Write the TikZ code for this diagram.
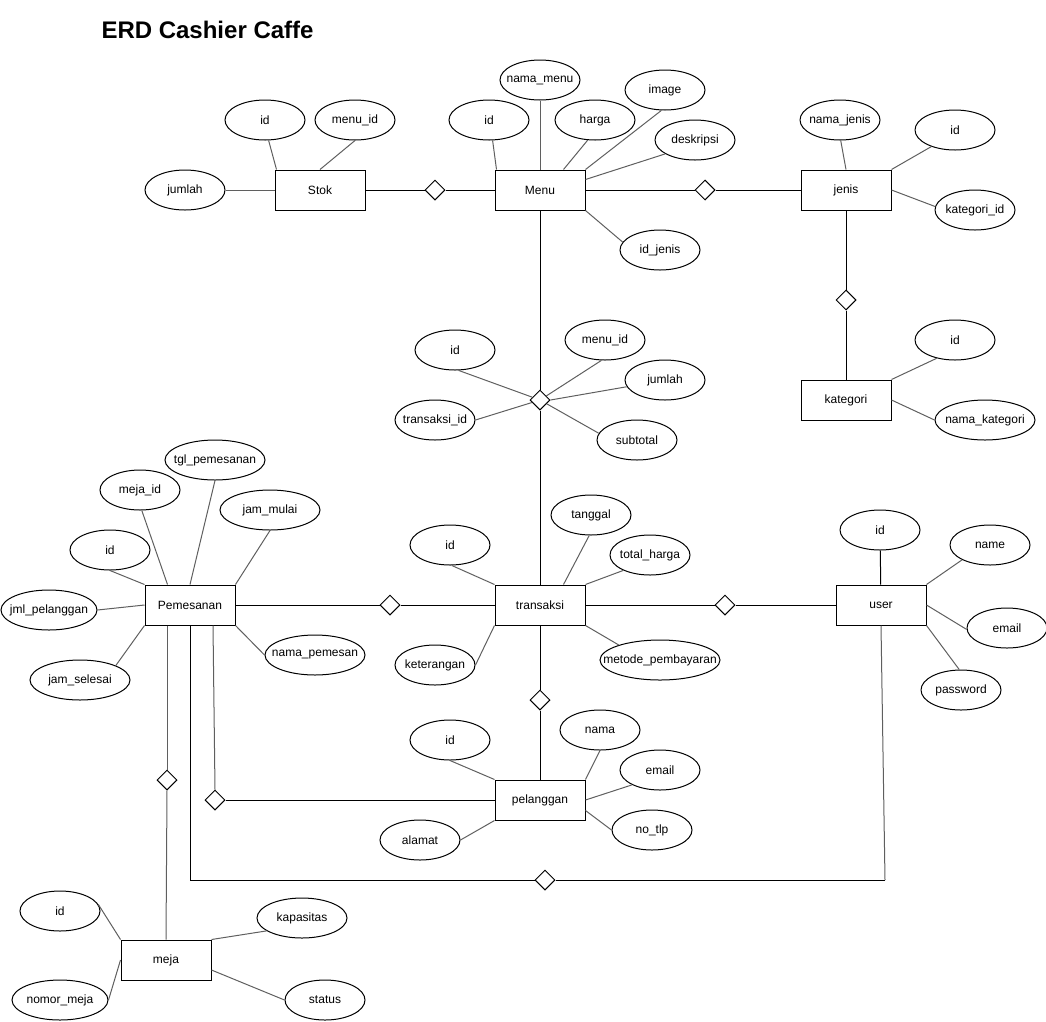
\documentclass[tikz,border=0pt]{standalone}
\usepackage{fontspec}
\setmainfont{Liberation Sans}
\usetikzlibrary{shapes.geometric}
\definecolor{linkgray}{RGB}{95,95,95}

\begin{document}
\begin{tikzpicture}[x=1pt, y=-1pt, line width=1pt,
    font=\fontsize{12}{14}\selectfont,
    entity/.style={draw, minimum width=90pt, minimum height=40pt, inner sep=0pt},
    attr/.style={draw, ellipse, minimum width=80pt, minimum height=40pt, inner xsep=-15pt, inner ysep=0pt},
    rel/.style={draw, diamond, minimum width=20pt, minimum height=20pt, inner sep=0pt, fill=white},
    link/.style={draw=linkgray}]
            \useasboundingbox (0,0) rectangle (1046,1021);

            % Title
            \node[anchor=west, inner sep=0pt, font=\fontsize{24}{28}\selectfont\bfseries] (judul) at (101,30) {ERD Cashier Caffe};

            % Entities
            \node[entity] (stok) at (320,190) {Stok};
            \node[entity] (menu) at (540,190) {Menu};
            \node[entity] (jenis) at (846,190) {jenis};
            \node[entity] (kategori) at (846,400) {kategori};
            \node[entity] (pemesanan) at (190,605) {Pemesanan};
            \node[entity] (transaksi) at (540,605) {transaksi};
            \node[entity] (user) at (881,605) {user};
            \node[entity] (pelanggan) at (540,800) {pelanggan};
            \node[entity] (meja) at (166,960) {meja};

            % Relations
            \node[rel] (stokmenu) at (435,190) {};
            \node[rel] (menujenis) at (705,190) {};
            \node[rel] (jeniskat) at (846,300) {};
            \node[rel] (detail) at (540,400) {};
            \node[rel] (pemtrans) at (390,605) {};
            \node[rel] (transuser) at (725,605) {};
            \node[rel] (transpel) at (540,700) {};
            \node[rel] (pemmeja) at (167,780) {};
            \node[rel] (pempel) at (215,800) {};
            \node[rel] (pemuser) at (545,880) {};
            \coordinate (userturn) at (885,880);

            \draw (stok) -- (stokmenu) -- (menu);
            \draw (menu) -- (menujenis) -- (jenis);
            \draw (jenis) -- (jeniskat) -- (kategori);
            \draw (menu) -- (detail) -- (transaksi);
            \draw (pemesanan) -- (pemtrans) -- (transaksi);
            \draw (transaksi) -- (transuser) -- (user);
            \draw (transaksi) -- (transpel) -- (pelanggan);
            \draw[link] ([xshift=-23pt]pemesanan.south) -- (pemmeja.north);
            \draw[link] (pemmeja.south) -- (meja.north);
            \draw[link] ([xshift=23pt]pemesanan.south) -- (pempel.north);
            \draw (pempel) -- (pelanggan);
            \draw (pemesanan.south) |- (pemuser.west);
            \draw (pemuser.east) -- (userturn);
            \draw[link] (userturn) -- (user.south);

            % Stok attributes
            \node[attr] (stokid) at (265,120) {id};
            \node[attr] (stokmenuid) at (355,120) {menu\_id};
            \node[attr] (stokjumlah) at (185,190) {jumlah};
            \draw[link] (stokid.-80) -- ([xshift=2pt]stok.north west);
            \draw[link] (stokmenuid.south) -- (stok.north);
            \draw[link] (stokjumlah) -- (stok);

            % Menu attributes
            \node[attr] (menuid) at (489,120) {id};
            \node[attr] (menunama) at (540,80) {nama\_menu};
            \node[attr] (menuharga) at (595,120) {harga};
            \node[attr] (menuimage) at (665,90) {image};
            \node[attr] (menudesk) at (695,140) {deskripsi};
            \node[attr] (menuidjenis) at (660,250) {id\_jenis};
            \draw[link] (menuid.-80) -- ([xshift=2pt]menu.north west);
            \draw[link] (menunama) -- (menu);
            \draw[link] (menuharga.-110) -- ([xshift=-22pt]menu.north east);
            \draw[link] (menuimage.-100) -- (menu.north east);
            \draw[link] (menudesk.205) -- ([yshift=-10pt]menu.north east);
            \draw[link] (menuidjenis.168) -- (menu.south east);

            % jenis attributes
            \node[attr] (jenisnama) at (840,120) {nama\_jenis};
            \node[attr] (jenisid) at (955,130) {id};
            \node[attr] (jeniskatid) at (975,210) {kategori\_id};
            \draw[link] (jenisnama.-88) -- (jenis.north);
            \draw[link] (jenisid.215) -- (jenis.north east);
            \draw[link] (jeniskatid.175) -- (jenis.east);

            % kategori attributes
            \node[attr] (katid) at (955,340) {id};
            \node[attr, minimum width=100pt] (katnama) at (985,420) {nama\_kategori};
            \draw[link] (katid.225) -- (kategori.north east);
            \draw[link] (katnama.west) -- (kategori.east);

            % detail attributes
            \node[attr] (detid) at (455,350) {id};
            \node[attr] (detmenuid) at (605,340) {menu\_id};
            \node[attr] (detjumlah) at (665,380) {jumlah};
            \node[attr] (dettransid) at (435,420) {transaksi\_id};
            \node[attr] (detsubtotal) at (637,440) {subtotal};
            \draw[link] (detid.-80) -- (detail);
            \draw[link] (detmenuid.-100) -- (detail);
            \draw[link] (detjumlah.190) -- (detail.east);
            \draw[link] (dettransid.east) -- (detail);
            \draw[link] (detsubtotal.170) -- (detail);

            % transaksi attributes
            \node[attr] (transid) at (450,545) {id};
            \node[attr] (transtgl) at (591,515) {tanggal};
            \node[attr] (transtotal) at (650,555) {total\_harga};
            \node[attr] (transket) at (435,665) {keterangan};
            \node[attr, minimum width=120pt] (transmetode) at (660,660) {metode\_pembayaran};
            \draw[link] (transid.-85) -- (transaksi.north west);
            \draw[link] (transtgl.-95) -- ([xshift=-22pt]transaksi.north east);
            \draw[link] (transtotal.210) -- (transaksi.north east);
            \draw[link] (transket.east) -- (transaksi.south west);
            \draw[link] (transmetode.160) -- (transaksi.south east);

            % user attributes
            \node[attr] (userid) at (880,530) {id};
            \node[attr] (username) at (990,545) {name};
            \node[attr] (useremail) at (1007,628) {email};
            \node[attr] (userpass) at (961,690) {password};
            \draw (userid) -- (user);
            \draw[link] (username.208) -- (user.north east);
            \draw[link] (useremail.182) -- (user.east);
            \draw[link] (userpass.95) -- (user.south east);

            % pelanggan attributes
            \node[attr] (pelid) at (450,740) {id};
            \node[attr] (pelnama) at (600,730) {nama};
            \node[attr] (pelemail) at (660,770) {email};
            \node[attr] (peltlp) at (652,830) {no\_tlp};
            \node[attr] (pelalamat) at (420,840) {alamat};
            \draw[link] (pelid.south) -- (pelanggan.north west);
            \draw[link] (pelnama.south) -- (pelanggan.north east);
            \draw[link] (pelemail.208) -- (pelanggan.east);
            \draw[link] (peltlp.west) -- ([yshift=10pt]pelanggan.south east);
            \draw[link] (pelalamat.east) -- (pelanggan.south west);

            % Pemesanan attributes
            \node[attr] (pemid) at (110,550) {id};
            \node[attr] (pemmejaid) at (140,490) {meja\_id};
            \node[attr, minimum width=100pt] (pemtgl) at (215,460) {tgl\_pemesanan};
            \node[attr, minimum width=100pt] (pemmulai) at (270,510) {jam\_mulai};
            \node[attr, minimum width=96pt] (pemjml) at (49,610) {jml\_pelanggan};
            \node[attr, minimum width=100pt] (pemselesai) at (80,680) {jam\_selesai};
            \node[attr, minimum width=100pt] (pemnama) at (315,655) {nama\_pemesan};
            \draw[link] (pemid.south) -- (pemesanan.north west);
            \draw[link] (pemmejaid.-85) -- ([xshift=23pt]pemesanan.north west);
            \draw[link] (pemtgl.south) -- (pemesanan.north);
            \draw[link] (pemmulai.south) -- (pemesanan.north east);
            \draw[link] (pemjml.east) -- (pemesanan.west);
            \draw[link] (pemselesai.22) -- (pemesanan.south west);
            \draw[link] (pemnama.west) -- (pemesanan.south east);

            % meja attributes
            \node[attr] (mejaid) at (60,911) {id};
            \node[attr, minimum width=96pt] (mejanomor) at (60,1000) {nomor\_meja};
            \node[attr, minimum width=90pt] (mejakap) at (302,918) {kapasitas};
            \node[attr] (mejastatus) at (325,1000) {status};
            \draw[link] (mejaid.10) -- (meja.north west);
            \draw[link] (mejanomor.east) -- (meja.west);
            \draw[link] (mejakap.200) -- (meja.north east);
            \draw[link] (mejastatus.west) -- ([yshift=-10pt]meja.east);
        \end{tikzpicture}
\end{document}
